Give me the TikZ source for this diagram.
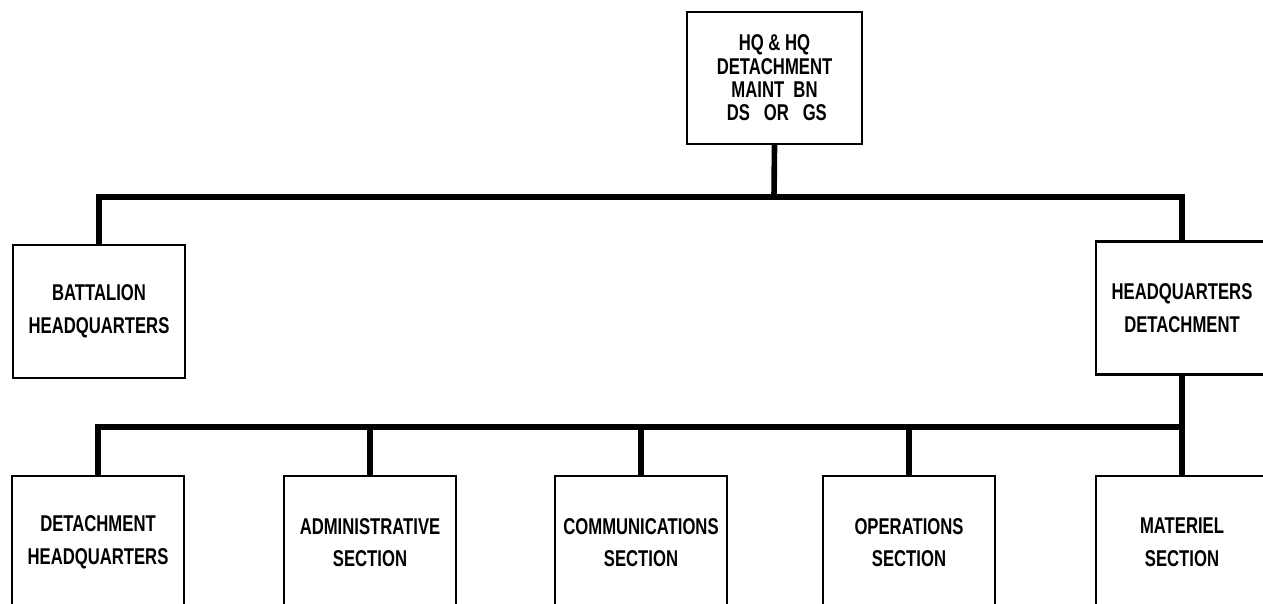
\documentclass[tikz,border=0pt]{standalone}
\usepackage{fontspec}
\setmainfont{Liberation Sans}[FakeStretch=0.73]
\usetikzlibrary{positioning}

\begin{document}
\begin{tikzpicture}[
  x=0.02cm,
  y=-0.02cm,
  every node/.style={font=\bfseries\fontsize{13}{18.5}\selectfont, align=center},
  unit/.style={draw, line width=1.3pt, minimum width=3.44cm,
               minimum height=2.66cm, inner sep=0pt},
  topunit/.style={unit, minimum width=3.5cm, minimum height=2.64cm,
                  font=\bfseries\fontsize{13}{13.3}\selectfont},
  link/.style={line width=3.2pt}
]
  \useasboundingbox (0,0) rectangle (1263,604);
  \clip (0,0) rectangle (1263,604);

  % ---- top ----
  \node[topunit] (hq) at (774.5,78) {HQ \& HQ\\DETACHMENT\\MAINT~~BN\\~DS~~~OR~~~GS};

  % ---- second row ----
  \node[unit] (bnhq) at (99,311.5) {BATTALION\\HEADQUARTERS};
  \node[unit] (hqdet) at (1182,308) {HEADQUARTERS\\DETACHMENT};

  % ---- sections ----
  \node[unit] (dethq) at (98,542.5) {DETACHMENT\\HEADQUARTERS};
  \node[unit] (admin) at (370,542.5) {ADMINISTRATIVE\\SECTION};
  \node[unit] (comms) at (641,542.5) {COMMUNICATIONS\\SECTION};
  \node[unit] (ops) at (909,542.5) {OPERATIONS\\SECTION};
  \node[unit] (mat) at (1182,542.5) {MATERIEL\\SECTION};

  % ---- bars ----
  \coordinate (bar1) at (774,197);
  \coordinate (bar2) at (1182,427);

  \draw[link] (hq.south) -- (bar1);
  \draw[link] (bnhq.north) |- (bar1) -| (hqdet.north);

  \draw[link] (hqdet.south) -- (mat.north);
  \draw[link] (dethq.north) |- (bar2);
  \foreach \s in {admin,comms,ops}
    \draw[link] (\s.north) -- (\s.north |- bar2);
\end{tikzpicture}
\end{document}
